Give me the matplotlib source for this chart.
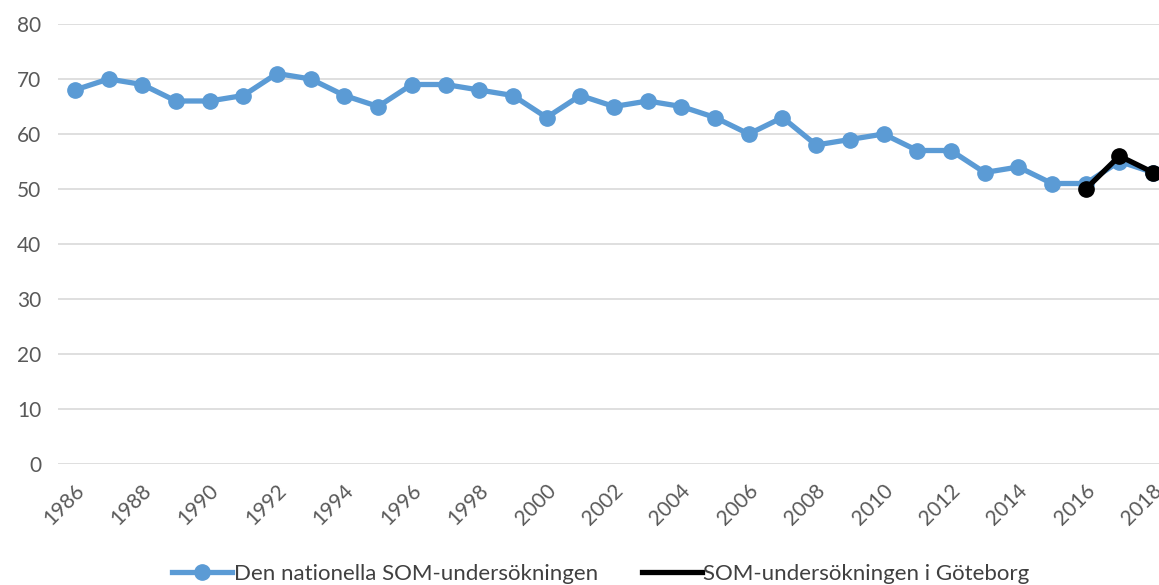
import matplotlib.pyplot as plt
from matplotlib.transforms import ScaledTranslation

years = list(range(1986, 2019))
national = [68, 70, 69, 66, 66, 67, 71, 70, 67, 65, 69, 69, 68, 67, 63, 67, 65, 66,
            65, 63, 60, 63, 58, 59, 60, 57, 57, 53, 54, 51, 51, 55, 53]
gbg_years = [2016, 2017, 2018]
goteborg = [50, 56, 53]

plt.rcParams['font.family'] = ['Lato', 'DejaVu Sans']

fig = plt.figure(figsize=(11.59, 5.85), dpi=100)
ax = fig.add_axes([58 / 1159, 1 - 464 / 585, (1170 - 58) / 1159, (464 - 24) / 585])

x_nat = [y - 1986 for y in years]
x_gbg = [y - 1986 for y in gbg_years]

ax.plot(x_nat, national, color='#5B9BD5', lw=3.8, marker='o', ms=11,
        label='Den nationella SOM-undersökningen', clip_on=False, zorder=3)
ax.plot(x_gbg, goteborg, color='black', lw=3.8, marker='o', ms=11,
        label='SOM-undersökningen i Göteborg', clip_on=False, zorder=4)

ax.set_xlim(-0.5, len(years) - 0.5)
ax.set_ylim(0, 80)
ax.set_yticks(range(0, 81, 10))
ax.set_xticks(x_nat[::2])
ax.set_xticklabels([str(y) for y in years[::2]], rotation=45, ha='right',
                   va='center', rotation_mode='anchor')
ax.tick_params(axis='both', length=0, labelsize=15, colors='#595959')
ax.tick_params(axis='y', pad=12)
ax.tick_params(axis='x', pad=17)
# nudge year labels a bit to the right, like the original
off = ScaledTranslation(6 / 100, 0, fig.dpi_scale_trans)
for lab in ax.get_xticklabels():
    lab.set_transform(lab.get_transform() + off)
ax.grid(axis='y', color='#D9D9D9', lw=1.2)
ax.set_axisbelow(True)
for s in ax.spines.values():
    s.set_visible(False)

# legend handles: blue with marker, black plain line
h_blue = plt.Line2D([], [], color='#5B9BD5', lw=3.8, marker='o', ms=11)
h_black = plt.Line2D([], [], color='black', lw=3.8)
fig.legend([h_blue, h_black],
           ['Den nationella SOM-undersökningen', 'SOM-undersökningen i Göteborg'],
           loc='center', bbox_to_anchor=(601 / 1159, 1 - 574 / 585), ncol=2, frameon=False,
           fontsize=16, labelcolor='#404040', handlelength=2.7, handletextpad=0.05,
           columnspacing=2.0)

fig.savefig('out.png', dpi=100)
